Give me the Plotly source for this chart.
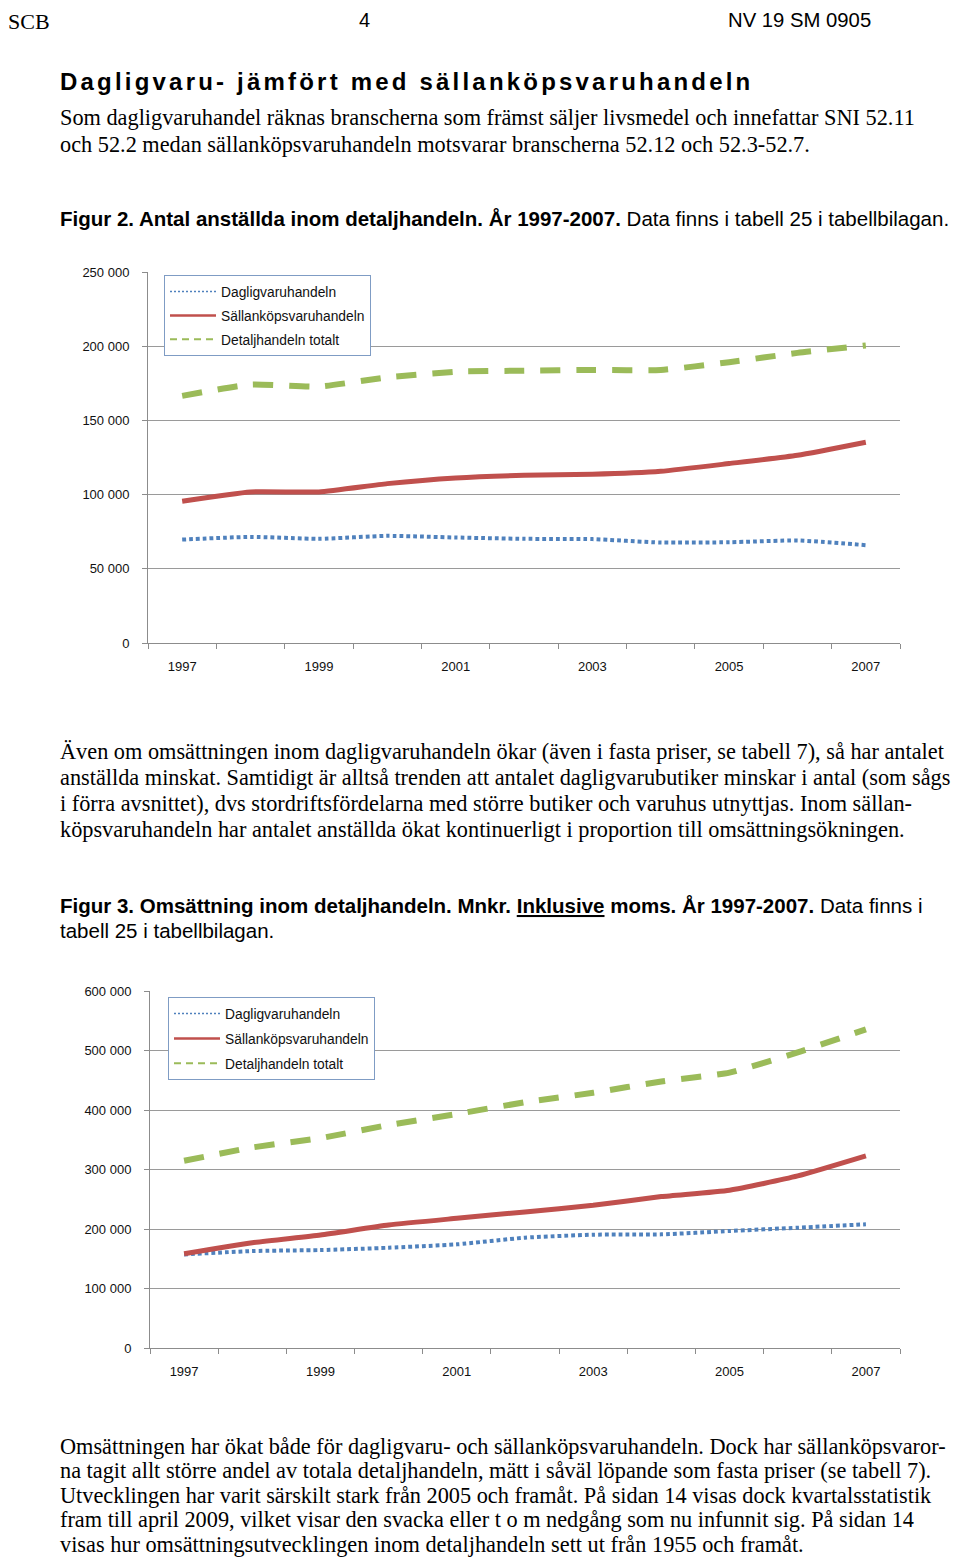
import plotly.graph_objects as go

# ---------------- data ----------------
years = [1997, 1998, 1999, 2000, 2001, 2002, 2003, 2004, 2005, 2006, 2007]

# Figur 2: Antal anställda
emp_daglig = [69700, 71500, 70200, 72200, 71100, 70200, 70000, 67700, 67900, 69100, 65900]
emp_sallan = [95500, 101800, 101800, 107400, 111200, 113000, 113700, 115700, 120900, 126500, 135300]
emp_total = [166500, 174200, 172800, 179000, 182800, 183500, 184000, 184000, 189200, 195500, 200500]

# Figur 3: Omsättning, Mnkr inkl. moms
oms_daglig = [157300, 162900, 164600, 168500, 174200, 185400, 190400, 191000, 196600, 202200, 207900]
oms_sallan = [158400, 177000, 190000, 206700, 218000, 228700, 239900, 254500, 265200, 289300, 323000]
oms_total = [314600, 337000, 352800, 374700, 393300, 413000, 429000, 448000, 462900, 497000, 535500]

series_names = ["Dagligvaruhandeln", "Sällanköpsvaruhandeln", "Detaljhandeln totalt"]
xtick_years = [1997, 1999, 2001, 2003, 2005, 2007]
y1_ticks = [0, 50000, 100000, 150000, 200000, 250000]
y2_ticks = [0, 100000, 200000, 300000, 400000, 500000, 600000]

# ---------------- helpers ----------------
OFF = 8  # browser default body margin; figure fills the rest of the 960x1566 page exactly
W, H = 960 - 2 * OFF, 1566 - 2 * OFF
def px(x):
    return (x - OFF) / W
def py(y):
    return 1 - (y - OFF) / H

BLUE = "#4f81bd"
RED = "#c0504d"
GREEN = "#9bbb59"
GRID = "#9a9a9a"
AXIS = "#8c8c8c"
SANS = "Liberation Sans, Arial, sans-serif"
SERIF = "Liberation Serif, Times New Roman, serif"

styles = [
    dict(color=BLUE, width=4, dash="3.8px,3px"),
    dict(color=RED, width=5),
    dict(color=GREEN, width=6, dash="20px,16px"),
]
legend_styles = [
    dict(color=BLUE, width=1.5, dash="2px,2px"),
    dict(color=RED, width=2.5),
    dict(color=GREEN, width=2, dash="7px,5px"),
]

fig = go.Figure()

for xa, ya, leg, data in [
    ("x", "y", "legend", [emp_daglig, emp_sallan, emp_total]),
    ("x2", "y2", "legend2", [oms_daglig, oms_sallan, oms_total]),
]:
    for name, vals, st in zip(series_names, data, styles):
        fig.add_trace(go.Scatter(
            x=years, y=vals, mode="lines", name=name,
            line=dict(shape="spline", smoothing=0.5, **st),
            xaxis=xa, yaxis=ya, showlegend=False, hoverinfo="x+y+name",
        ))
    for name, st in zip(series_names, legend_styles):
        fig.add_trace(go.Scatter(
            x=[None], y=[None], mode="lines", name=name,
            line=st, xaxis=xa, yaxis=ya, legend=leg,
            legendgroup=name + leg, showlegend=True,
        ))

xaxis_common = dict(
    range=[1996.5, 2007.5],
    tickvals=xtick_years,
    ticktext=[str(y) for y in xtick_years],
    ticks="outside", ticklen=5, tickcolor="rgba(0,0,0,0)",
    ticklabelstandoff=6,
    minor=dict(ticks="outside", ticklen=5, tickcolor=AXIS, tick0=1996.5, dtick=1, showgrid=False),
    showgrid=False, zeroline=False,
    showline=True, linecolor=AXIS, linewidth=1,
    tickfont=dict(family=SANS, size=13, color="#111"),
    fixedrange=True, automargin=False,
)
yaxis_common = dict(
    showgrid=True, gridcolor=GRID, gridwidth=1,
    zeroline=False,
    showline=True, linecolor=AXIS, linewidth=1,
    ticks="outside", ticklen=5, tickcolor=AXIS,
    ticklabelstandoff=10,
    tickformat=",d",
    tickfont=dict(family=SANS, size=13, color="#111"),
    fixedrange=True, automargin=False,
)

legend_common = dict(
    xanchor="left", yanchor="top",
    bgcolor="white", bordercolor="#7f9cc4", borderwidth=1,
    font=dict(family=SANS, size=13.8, color="#111"),
    traceorder="grouped", itemwidth=46,
)

fig.update_layout(
    width=W, height=H, autosize=False,
    margin=dict(l=0, r=0, t=0, b=0, autoexpand=False),
    paper_bgcolor="white", plot_bgcolor="white",
    separators=", ",
    xaxis=dict(domain=[px(148), px(900)], anchor="y", **xaxis_common),
    yaxis=dict(domain=[py(643), py(272)], anchor="x", range=[0, 250000],
               tickvals=y1_ticks, **yaxis_common),
    xaxis2=dict(domain=[px(150), px(900)], anchor="y2", **xaxis_common),
    yaxis2=dict(domain=[py(1348), py(991)], anchor="x2", range=[0, 600000],
                tickvals=y2_ticks, **yaxis_common),
    legend=dict(x=px(164), y=py(275), tracegroupgap=3, **legend_common),
    legend2=dict(x=px(168), y=py(997), tracegroupgap=4, **legend_common),
    showlegend=True,
)

def text(x, y, s, family=SERIF, size=20, color="#000", anchor="left", yanchor="middle"):
    # y is the visual centre of the glyphs in the reference
    fig.add_annotation(x=px(x), y=py(y), xref="paper", yref="paper",
                       text=s, showarrow=False, xanchor=anchor, yanchor=yanchor,
                       font=dict(family=family, size=size, color=color), borderpad=0)

BODY = 22.3
FIG = 20.5

# header: pinned to the top of the visible figure area
text(7, OFF, "SCB", family=SERIF, size=22, yanchor="top")
text(364, OFF, "4", family=SANS, size=20, anchor="center", yanchor="top")
text(727, OFF, "NV 19 SM 0905", family=SANS, size=20.3, yanchor="top")

# heading
text(59, 81, '<span style="letter-spacing:3.2px"><b>Dagligvaru- jämfört med sällanköpsvaruhandeln</b></span>',
     family=SANS, size=24)

p1 = [
    "Som dagligvaruhandel räknas branscherna som främst säljer livsmedel och innefattar SNI 52.11",
    "och 52.2 medan sällanköpsvaruhandeln motsvarar branscherna 52.12 och 52.3-52.7.",
]
for i, line in enumerate(p1):
    text(59, 118 + 26 * i, line, size=BODY)

text(59, 218, "<b>Figur 2. Antal anställda inom detaljhandeln. År 1997-2007.</b> Data finns i tabell 25 i tabellbilagan.",
     family=SANS, size=FIG)

p2 = [
    "Även om omsättningen inom dagligvaruhandeln ökar (även i fasta priser, se tabell 7), så har antalet",
    "anställda minskat. Samtidigt är alltså trenden att antalet dagligvarubutiker minskar i antal (som sågs",
    "i förra avsnittet), dvs stordriftsfördelarna med större butiker och varuhus utnyttjas. Inom sällan-",
    "köpsvaruhandeln har antalet anställda ökat kontinuerligt i proportion till omsättningsökningen.",
]
for i, line in enumerate(p2):
    text(59, 751 + 26 * i, line, size=BODY)

text(59, 905, "<b>Figur 3. Omsättning inom detaljhandeln. Mnkr. <u>Inklusive</u> moms. År 1997-2007.</b> Data finns i",
     family=SANS, size=FIG)
text(59, 930, "tabell 25 i tabellbilagan.", family=SANS, size=FIG)

p3 = [
    "Omsättningen har ökat både för dagligvaru- och sällanköpsvaruhandeln. Dock har sällanköpsvaror-",
    "na tagit allt större andel av totala detaljhandeln, mätt i såväl löpande som fasta priser (se tabell 7).",
    "Utvecklingen har varit särskilt stark från 2005 och framåt. På sidan 14 visas dock kvartalsstatistik",
    "fram till april 2009, vilket visar den svacka eller t o m nedgång som nu infunnit sig. På sidan 14",
    "visas hur omsättningsutvecklingen inom detaljhandeln sett ut från 1955 och framåt.",
]
for i, line in enumerate(p3):
    text(59, 1446 + 24.6 * i, line, size=BODY)

fig.write_html("out.html", config={"displayModeBar": False})
